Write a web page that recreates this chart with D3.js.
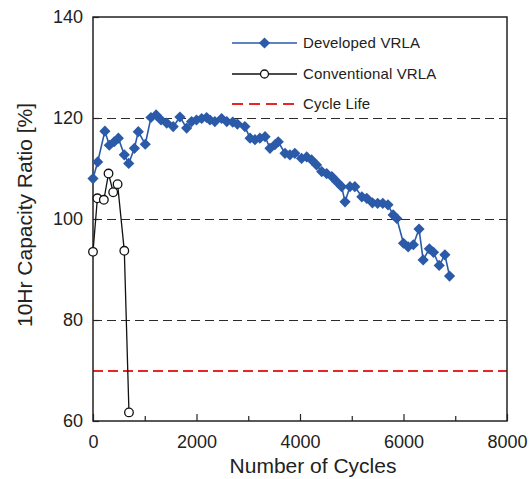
<!DOCTYPE html>
<html>
<head>
<meta charset="utf-8">
<script src="https://cdn.jsdelivr.net/npm/d3@7"></script>
<style>
  body { margin: 0; background: #fff; }
  text { font-family: "Liberation Sans", Arial, sans-serif; fill: #222; }
</style>
</head>
<body>
<div class="chart"></div>
<script>
const w = 531;
const h = 479;

// Developed VRLA (cycles, capacity %)
const devCycles = [0, 90, 230, 315, 410, 490, 605, 690, 800, 875, 1010, 1120, 1220, 1315, 1425, 1550,
  1680, 1810, 1905, 2000, 2100, 2195, 2260, 2355, 2485, 2585, 2700, 2790, 2935, 3035, 3130, 3225,
  3325, 3420, 3515, 3580, 3710, 3805, 3900, 4030, 4130, 4225, 4320, 4420, 4515, 4615, 4710, 4805,
  4870, 4965, 5060, 5195, 5290, 5400, 5500, 5600, 5700, 5800, 5870, 6000, 6090, 6190, 6300, 6380,
  6500, 6580, 6690, 6800, 6890];
const devValues = [108.0, 111.3, 117.4, 114.6, 115.3, 116.0, 112.7, 111.0, 114.0, 117.3, 114.8, 120.1,
  120.6, 119.6, 119.0, 118.3, 120.2, 118.0, 119.3, 119.6, 119.9, 120.1, 119.6, 119.3, 119.9, 119.3,
  119.2, 118.8, 118.3, 116.0, 115.7, 116.0, 116.3, 114.0, 114.7, 115.3, 113.0, 112.7, 113.0, 112.0,
  112.3, 111.7, 110.7, 109.4, 109.0, 108.4, 107.4, 106.4, 103.4, 106.4, 106.4, 104.4, 104.1, 103.2,
  103.1, 103.1, 102.8, 100.8, 100.1, 95.2, 94.5, 94.9, 98.0, 91.9, 94.1, 93.4, 90.8, 92.9, 88.7];

// Conventional VRLA
const convCycles = [0, 85, 210, 300, 390, 475, 605, 695];
const convValues = [93.5, 104.1, 103.8, 109.0, 105.3, 106.9, 93.7, 61.7];

const cycleLife = 70;
const xTicks = [0, 2000, 4000, 6000, 8000];
const xMinor = [1000, 3000, 5000, 7000];
const yTicks = [60, 80, 100, 120, 140];
const gridVals = [80, 100, 120];

const legendNames = ["Developed VRLA", "Conventional VRLA", "Cycle Life"];

const blue = "#2a5aa8";
const red = "#e8262a";

const padL = 93, padR = 507, padT = 17, padB = 421;

var svg = d3.select(".chart").append("svg")
  .attr("width", w)
  .attr("height", h);

var xScale = d3.scaleLinear().domain([0, 8000]).range([padL, padR]);
var yScale = d3.scaleLinear().domain([60, 140]).range([padB, padT]);

// grid lines (snapped to pixel centres so they stay dark)
svg.selectAll(".grid")
  .data(gridVals)
  .enter().append("line")
  .attr("x1", padL).attr("x2", padR)
  .attr("y1", d => Math.round(yScale(d)) + 0.5).attr("y2", d => Math.round(yScale(d)) + 0.5)
  .attr("stroke", "#2a2a2a")
  .attr("stroke-width", 1)
  .attr("stroke-dasharray", "9,5");

// cycle life line
svg.append("line")
  .attr("x1", padL).attr("x2", padR)
  .attr("y1", Math.round(yScale(cycleLife))).attr("y2", Math.round(yScale(cycleLife)))
  .attr("stroke", red)
  .attr("stroke-width", 2)
  .attr("stroke-dasharray", "10,5");

// axes
var xAxis = d3.axisBottom(xScale).tickValues(xTicks).tickSize(-7).tickPadding(12).tickFormat(d3.format("d"));
var gx = svg.append("g")
  .attr("transform", "translate(0," + padB + ")")
  .call(xAxis);
gx.selectAll("text").attr("font-size", 18).attr("dy", "0.85em");

svg.append("g")
  .attr("transform", "translate(0," + padB + ")")
  .call(d3.axisBottom(xScale).tickValues(xMinor).tickSize(-5).tickFormat(""));

var yAxis = d3.axisLeft(yScale).tickValues(yTicks).tickSize(-6).tickPadding(10);
var gy = svg.append("g")
  .attr("transform", "translate(" + padL + ",0)")
  .call(yAxis);
gy.selectAll("text").attr("font-size", 18);

svg.selectAll(".domain").remove();
svg.selectAll(".tick line").attr("stroke", "#222").attr("stroke-width", 1.2);

// frame
svg.append("rect")
  .attr("x", padL).attr("y", padT)
  .attr("width", padR - padL).attr("height", padB - padT)
  .attr("fill", "none")
  .attr("stroke", "#222")
  .attr("stroke-width", 1.5);

// developed series
var dev = devCycles.map((c, i) => [c, devValues[i]]);
var line = d3.line().x(d => xScale(d[0])).y(d => yScale(d[1]));

svg.append("path")
  .datum(dev)
  .attr("d", line)
  .attr("fill", "none")
  .attr("stroke", blue)
  .attr("stroke-width", 1.6);

var diamond = d3.symbol().type(d3.symbolDiamond2).size(80);
svg.selectAll(".dev")
  .data(dev)
  .enter().append("path")
  .attr("transform", d => "translate(" + xScale(d[0]) + "," + yScale(d[1]) + ")")
  .attr("d", diamond)
  .attr("fill", blue);

// conventional series
var conv = convCycles.map((c, i) => [c, convValues[i]]);
svg.append("path")
  .datum(conv)
  .attr("d", line)
  .attr("fill", "none")
  .attr("stroke", "#111")
  .attr("stroke-width", 1.3);

svg.selectAll(".conv")
  .data(conv)
  .enter().append("circle")
  .attr("cx", d => xScale(d[0]))
  .attr("cy", d => yScale(d[1]))
  .attr("r", 4.3)
  .attr("fill", "#fff")
  .attr("stroke", "#111")
  .attr("stroke-width", 1.3);

// legend
var legY = [43, 74, 104];
var lg = svg.append("g");
lg.append("line").attr("x1", 232).attr("x2", 297).attr("y1", legY[0]).attr("y2", legY[0])
  .attr("stroke", blue).attr("stroke-width", 1.6);
lg.append("path").attr("transform", "translate(264.5," + legY[0] + ")").attr("d", diamond).attr("fill", blue);
lg.append("line").attr("x1", 232).attr("x2", 297).attr("y1", legY[1]).attr("y2", legY[1])
  .attr("stroke", "#111").attr("stroke-width", 1.3);
lg.append("circle").attr("cx", 264.5).attr("cy", legY[1]).attr("r", 4)
  .attr("fill", "#fff").attr("stroke", "#111").attr("stroke-width", 1.3);
lg.append("line").attr("x1", 232).attr("x2", 297).attr("y1", legY[2]).attr("y2", legY[2])
  .attr("stroke", red).attr("stroke-width", 2).attr("stroke-dasharray", "11,6");

lg.selectAll(".legtext")
  .data(legendNames)
  .enter().append("text")
  .attr("x", 303)
  .attr("y", (d, i) => legY[i])
  .attr("dy", "0.36em")
  .attr("font-size", 15)
  .attr("letter-spacing", 0.15)
  .text(d => d);

// axis titles
svg.append("text")
  .attr("x", 313).attr("y", 473)
  .attr("text-anchor", "middle")
  .attr("font-size", 21)
  .text("Number of Cycles");

svg.append("text")
  .attr("transform", "translate(32,215) rotate(-90)")
  .attr("text-anchor", "middle")
  .attr("font-size", 21)
  .text("10Hr Capacity Ratio [%]");
</script>
</body>
</html>
